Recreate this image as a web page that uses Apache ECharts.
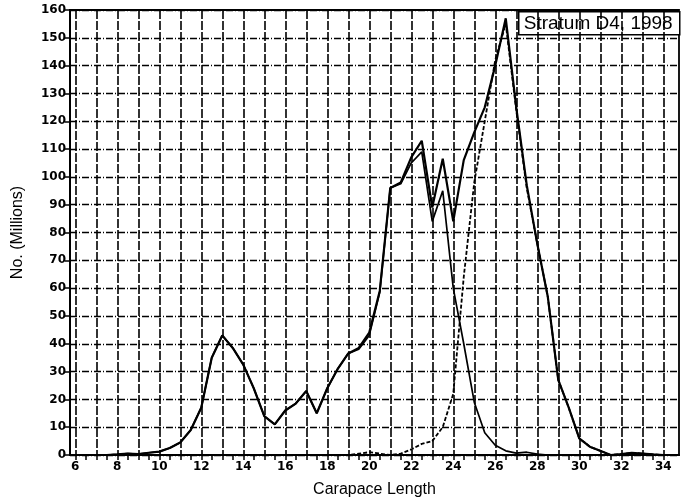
<!DOCTYPE html>
<html>
<head>
<meta charset="utf-8">
<title>Stratum D4, 1998</title>
<script src="https://cdn.jsdelivr.net/npm/echarts@6/dist/echarts.min.js"></script>
<style>
  html, body { margin: 0; padding: 0; background: #fff; }
  #chart { width: 689px; height: 504px; }
</style>
</head>
<body>
<div id="chart"></div>
<script>
// Carapace length classes (mm), half-millimetre bins
const lengths = [6, 6.5, 7, 7.5, 8, 8.5, 9, 9.5, 10, 10.5, 11, 11.5, 12, 12.5, 13, 13.5,
  14, 14.5, 15, 15.5, 16, 16.5, 17, 17.5, 18, 18.5, 19, 19.5, 20, 20.5, 21, 21.5,
  22, 22.5, 23, 23.5, 24, 24.5, 25, 25.5, 26, 26.5, 27, 27.5, 28, 28.5, 29, 29.5,
  30, 30.5, 31, 31.5, 32, 32.5, 33, 33.5, 34];

// Total abundance (millions)
const totalCount = [0, 0, 0, 0, 0.2, 0.5, 0.3, 0.8, 1.2, 2.5, 4.5, 9, 17, 35, 43, 38.5,
  32.5, 24, 14, 11, 16, 18.5, 23, 15, 24, 31, 36.5, 38.5, 44, 59, 96, 98,
  107, 113, 89, 106.5, 84, 106, 116, 125, 140, 157, 125, 97, 76, 57, 27, 17,
  6, 3, 1.5, 0, 0.3, 0.8, 0.5, 0.2, 0];

// Smaller-size component (solid thin line)
const smallComponent = [0, 0, 0, 0, 0.2, 0.5, 0.3, 0.8, 1.2, 2.5, 4.5, 9, 17, 35, 43, 38.5,
  32.5, 24, 14, 11, 16, 18.5, 23, 15, 24, 31, 36.5, 38, 43, 58.5, 96, 97.5,
  105, 109, 84, 95, 60, 40, 19, 8, 3.5, 1.5, 0.7, 1, 0.3, 0, 0, 0,
  0, 0, 0, 0, 0, 0, 0, 0, 0];

// Larger-size component (dashed line)
const largeComponent = [0, 0, 0, 0, 0, 0, 0, 0, 0, 0, 0, 0, 0, 0, 0, 0,
  0, 0, 0, 0, 0, 0, 0, 0, 0, 0, 0, 0.5, 1, 0.5, 0, 0.5,
  2, 4, 5, 10, 22, 64, 98, 120, 142, 155, 124, 96, 76, 57, 27, 17,
  6, 3, 1.5, 0, 0.3, 0.8, 0.5, 0.2, 0];

// Axis ticks and labels
const xTickValues = lengths;
const xGridValues = [6, 7, 8, 9, 10, 11, 12, 13, 14, 15, 16, 17, 18, 19, 20,
  21, 22, 23, 24, 25, 26, 27, 28, 29, 30, 31, 32, 33, 34];
const xLabelValues = [6, 8, 10, 12, 14, 16, 18, 20, 22, 24, 26, 28, 30, 32, 34];

const xMin = 5.75, xMax = 34.75;
const yMin = 0, yMax = 160, yStep = 10;

const pairs = (ys) => lengths.map((x, i) => [x, ys[i]]);

const tickFont = { fontFamily: 'DejaVu Sans', fontWeight: 'bold', fontSize: 12, color: '#000' };

const chart = echarts.init(document.getElementById('chart'), null, { renderer: 'canvas' });

chart.setOption({
  backgroundColor: '#fff',
  animation: false,
  grid: {
    left: 70, right: 10, top: 10, bottom: 49,
    show: true, borderColor: '#000', borderWidth: 1.8, backgroundColor: 'transparent'
  },
  xAxis: [
    {
      type: 'value', min: xMin, max: xMax, position: 'bottom',
      name: 'Carapace Length', nameLocation: 'middle', nameGap: 27,
      nameTextStyle: { fontFamily: 'Liberation Sans', fontSize: 16, color: '#000' },
      axisLine: { show: true, onZero: false, lineStyle: { color: '#000', width: 2 } },
      axisTick: { show: true, inside: false, length: 5, customValues: xTickValues,
        lineStyle: { color: '#000', width: 1.5 } },
      axisLabel: Object.assign({ customValues: xLabelValues, margin: 6 }, tickFont),
      splitLine: { show: false }
    },
    {
      // integer grid lines
      type: 'value', min: xMin, max: xMax, position: 'bottom',
      axisLine: { show: false },
      axisTick: { show: false, customValues: xGridValues },
      axisLabel: { show: false },
      splitLine: { show: true, lineStyle: { color: '#000', width: 1.6, type: [9, 2] } }
    }
  ],
  yAxis: {
    type: 'value', min: yMin, max: yMax, interval: yStep,
    name: 'No. (Millions)', nameLocation: 'middle', nameGap: 44, nameRotate: 90,
    nameTextStyle: { fontFamily: 'Liberation Sans', fontSize: 16, color: '#000' },
    axisLine: { show: true, onZero: false, lineStyle: { color: '#000', width: 2 } },
    axisTick: { show: true, inside: false, length: 5, lineStyle: { color: '#000', width: 1.5 } },
    axisLabel: Object.assign({ margin: 4 }, tickFont),
    splitLine: { show: true, lineStyle: { color: '#000', width: 1.4, type: [7, 2, 1, 2] } }
  },
  series: [
    {
      name: 'Total', type: 'line', xAxisIndex: 0, data: pairs(totalCount),
      showSymbol: false, smooth: false, z: 5,
      lineStyle: { color: '#000', width: 2.2 }
    },
    {
      name: 'Small', type: 'line', xAxisIndex: 0, data: pairs(smallComponent),
      showSymbol: false, smooth: false, z: 4,
      lineStyle: { color: '#000', width: 1.7 }
    },
    {
      name: 'Large', type: 'line', xAxisIndex: 0, data: pairs(largeComponent),
      showSymbol: false, smooth: false, z: 4,
      lineStyle: { color: '#000', width: 1.8, type: [4, 2] }
    }
  ],
  graphic: [
    {
      type: 'group', left: 518, top: 11, z: 100,
      children: [
        { type: 'rect', shape: { x: 0, y: 0, width: 161, height: 23 },
          style: { fill: '#fff', stroke: '#000', lineWidth: 1.5 } },
        { type: 'text', x: 5, y: 12,
          style: { text: 'Stratum D4, 1998', font: '19px "Liberation Sans"',
            fill: '#000', verticalAlign: 'middle', align: 'left' } }
      ]
    }
  ]
});
</script>
</body>
</html>
